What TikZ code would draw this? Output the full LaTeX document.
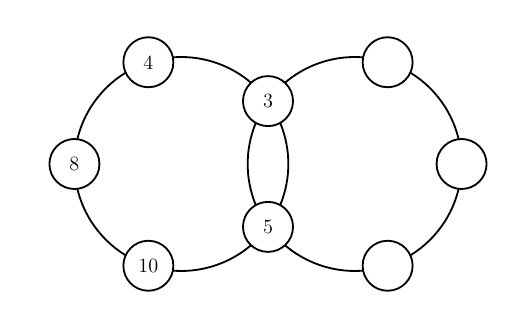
\documentclass[tikz,border=0pt]{standalone}
\usepackage{tikz}
\usetikzlibrary{backgrounds}

\begin{document}
\begin{tikzpicture}[
    vertex/.style={circle, draw, fill=white, line width=1.3pt, minimum size=1.25cm, inner sep=0pt, font=\Large},
    ring/.style={line width=1.3pt, bend left=36, looseness=0.94}]
  \useasboundingbox (0,0) rectangle (13.3,7.75);
  % left ring (center 4.536,3.65, radius 2.675)
  \begin{scope}[shift={(4.536,3.65)}]
    \node[vertex] (n8) at (180:2.675) {8};
    \node[vertex] (n4) at (108:2.675) {4};
    \node[vertex] (n3) at (36:2.675) {3};
    \node[vertex] (n5) at (-36:2.675) {5};
    \node[vertex] (n10) at (-108:2.675) {10};
  \end{scope}
  % right ring (center 8.864,3.65, radius 2.675)
  \begin{scope}[shift={(8.864,3.65)}]
    \node[vertex] (r1) at (72:2.675) {};
    \node[vertex] (r2) at (0:2.675) {};
    \node[vertex] (r3) at (-72:2.675) {};
  \end{scope}
  % edges, clockwise round each ring
  \begin{scope}[on background layer]
    \draw[ring] (n8.center) to (n4.center);
    \draw[ring] (n4.center) to (n3.center);
    \draw[ring] (n3.center) to (n5.center);
    \draw[ring] (n5.center) to (n10.center);
    \draw[ring] (n10.center) to (n8.center);
    \draw[ring] (n3.center) to (r1.center);
    \draw[ring] (r1.center) to (r2.center);
    \draw[ring] (r2.center) to (r3.center);
    \draw[ring] (r3.center) to (n5.center);
    \draw[ring] (n5.center) to (n3.center);
  \end{scope}
\end{tikzpicture}
\end{document}
